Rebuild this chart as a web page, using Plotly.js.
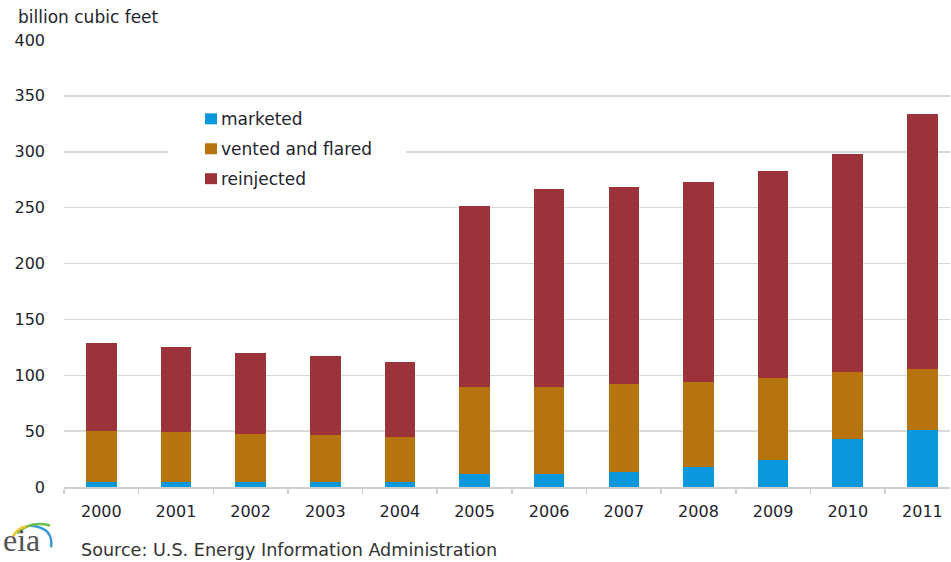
<!DOCTYPE html>
<html>
<head>
<meta charset="utf-8">
<script src="https://cdn.plot.ly/plotly-3.0.1.min.js"></script>
<style>html,body{margin:0;padding:0;background:#fff;}#chart{width:951px;height:562px;}</style>
</head>
<body>
<div id="chart"></div>
<script>
const years = ["2000","2001","2002","2003","2004","2005","2006","2007","2008","2009","2010","2011"];
const marketed = [4.3,4.3,4.3,4.3,4.3,11.2,11.2,13.6,18.0,23.9,43.3,50.7];
const ventedFlared = [45.4,45.3,43.5,42.0,40.5,78.5,78.5,78.2,76.2,73.9,59.8,54.8];
const reinjected = [78.9,76.1,72.0,70.5,67.5,161.9,177.2,176.7,178.7,184.8,194.8,228.3];
const yTicks = [0,50,100,150,200,250,300,350,400];
const seriesNames = ["marketed","vented and flared","reinjected"];
const seriesColors = ["#0a97dc","#b7730d","#9c333a"];

const font = "DejaVu Sans, Verdana, sans-serif";
const textColor = "#23232e";
const seriesValues = [marketed, ventedFlared, reinjected];
const data = seriesNames.map((n,i)=>({
  type:"bar", name:n, x:years, y:seriesValues[i],
  marker:{color:seriesColors[i], line:{width:0}}, width:0.41, hoverinfo:"y"
}));

function px(x){return (x-64)/886;}
function py(y){return (487.5-y)/448;}
function arc(p){
  return `M${px(p[0])},${py(p[1])} Q${px(p[2])},${py(p[3])} ${px(p[4])},${py(p[5])}`;
}

const shapes = [
  {type:"rect", xref:"paper", yref:"paper", x0:px(168), x1:px(406), y0:py(102), y1:py(198),
   fillcolor:"#fff", line:{width:0}, layer:"above"},
  {type:"path", xref:"paper", yref:"paper", path:arc([30,526,54,528,51,548]), line:{color:"#3a9ad9", width:2.5}},
  {type:"path", xref:"paper", yref:"paper", path:arc([17,534,30,521,50,526]), line:{color:"#6cbf4a", width:2.5}},
  {type:"path", xref:"paper", yref:"paper", path:arc([13,537,18,528,26,527]), line:{color:"#f2c431", width:2.5}}
];
const annotations = [
  {text:"billion cubic feet", xref:"paper", yref:"paper", x:px(16), y:py(16), xanchor:"left", yanchor:"middle",
   showarrow:false, font:{family:font, size:17, color:textColor}},
  {text:"Source: U.S. Energy Information Administration", xref:"paper", yref:"paper", x:px(79), y:py(551),
   xanchor:"left", yanchor:"middle", showarrow:false, font:{family:font, size:17.6, color:"#333"}},
  {text:"eia", xref:"paper", yref:"paper", x:px(1), y:py(541), xanchor:"left", yanchor:"middle",
   showarrow:false, font:{family:"Liberation Serif, DejaVu Serif, serif", size:32, color:"#555"}}
];
// custom legend built from the series names and colours
seriesNames.forEach((n,i)=>{
  const cy = 118.5 + 30*i;
  shapes.push({type:"rect", xref:"paper", yref:"paper", x0:px(205), x1:px(217), y0:py(cy+5.5), y1:py(cy-5.5),
    fillcolor:seriesColors[i], line:{width:0}, layer:"above"});
  annotations.push({text:n, xref:"paper", yref:"paper", x:px(219), y:py(cy), xanchor:"left", yanchor:"middle",
    showarrow:false, font:{family:font, size:17, color:textColor}});
});

const layout = {
  width:951, height:562,
  margin:{l:64, r:1, t:40, b:74.5},
  paper_bgcolor:"#fff", plot_bgcolor:"#fff",
  barmode:"stack",
  showlegend:false,
  xaxis:{type:"category", range:[-0.5, 11.37], showgrid:false,
         showline:true, linecolor:"#d0d0d0", linewidth:1.5,
         ticks:"outside", tickson:"boundaries", ticklen:5, tickcolor:"#d0d0d0", tickwidth:1.5,
         ticklabelstandoff:9,
         tickfont:{family:font, size:16, color:textColor}, fixedrange:true},
  yaxis:{range:[0,400], tickvals:yTicks, ticktext:yTicks.map(String),
         showgrid:true, gridcolor:"#dadada", gridwidth:1.5, zeroline:false,
         ticks:"", ticklabelstandoff:18,
         tickfont:{family:font, size:16, color:textColor}, fixedrange:true},
  annotations:annotations,
  shapes:shapes
};
Plotly.newPlot("chart", data, layout, {displayModeBar:false, staticPlot:true});
</script>
</body>
</html>
